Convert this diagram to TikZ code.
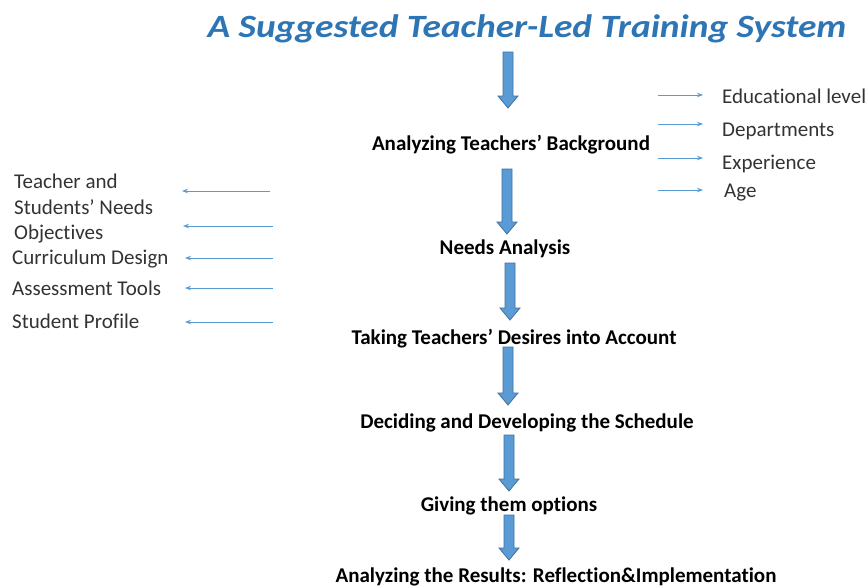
\documentclass[tikz,border=0pt]{standalone}
\usepackage{fontspec}
\setmainfont{Carlito}[Ligatures={NoCommon,TeX}]
\newfontfamily\titlefont[FakeStretch=1.15,Ligatures={NoCommon,TeX}]{Carlito}
\usetikzlibrary{arrows.meta}
\definecolor{titleblue}{HTML}{2E75B6}
\definecolor{arrfill}{HTML}{5B9BD5}
\definecolor{arrline}{HTML}{41719C}
\definecolor{thinblue}{HTML}{5B9BD5}
\definecolor{sidetxt}{HTML}{333333}
\newcommand\blockarrow[4]{% name, x, ytop, ybot
  \filldraw[blockarr] (#2-5,#3) -- (#2+5,#3) -- (#2+5,#4-12) -- (#2+10,#4-12)
    -- (#2,#4) -- (#2-10,#4-12) -- (#2-5,#4-12) -- cycle;
  \coordinate (#1) at (#2,#3);}
\begin{document}
\begin{tikzpicture}[x=1pt,y=-1pt,
  titlestyle/.style={font=\titlefont\fontsize{32.5}{38}\selectfont\bfseries\itshape, text=titleblue, inner sep=0pt, anchor=base},
  stepbox/.style={font=\fontsize{21}{25}\selectfont\bfseries, text=black, inner sep=0pt, anchor=base},
  side/.style={font=\fontsize{21}{25}\selectfont, text=sidetxt, inner sep=0pt, anchor=base west},
  blockarr/.style={draw=arrline, fill=arrfill, line width=0.8pt},
  thinarr/.style={draw=thinblue, line width=0.9pt, -{Stealth[length=6pt,width=4.5pt]}}]
\useasboundingbox (0,0) rectangle (867,587);
\fill[white] (0,0) rectangle (867,587);

\node[titlestyle] (title) at (527,37) {A Suggested Teacher-Led Training System};

\node[stepbox] (bg) at (511,150) {Analyzing Teachers’ Background};
\node[stepbox] (needs) at (505,254) {Needs Analysis};
\node[stepbox] (desires) at (514,344) {Taking Teachers’ Desires into Account};
\node[stepbox] (sched) at (527,428) {Deciding and Developing the Schedule};
\node[stepbox] (opts) at (509,511) {Giving them options};
\node[stepbox] (res) at (556,582) {Analyzing the Results: Reflection\&Implementation};

\blockarrow{b1}{508}{52}{108}
\blockarrow{b2}{507}{169}{234}
\blockarrow{b3}{510}{263}{320}
\blockarrow{b4}{508}{347}{405}
\blockarrow{b5}{509}{435}{491}
\blockarrow{b6}{509}{515}{560}

% right side
\node[side] (edu) at (722,103) {Educational level};
\node[side] (dep) at (722,136) {Departments};
\node[side] (exp) at (722,169) {Experience};
\node[side] (age) at (724,197) {Age};
\coordinate (r1s) at (658,95);  \coordinate (r1e) at (703,95);
\coordinate (r2s) at (658,124); \coordinate (r2e) at (703,124);
\coordinate (r3s) at (658,158); \coordinate (r3e) at (703,158);
\coordinate (r4s) at (658,190); \coordinate (r4e) at (703,190);
\draw[thinarr] (r1s) -- (r1e);
\draw[thinarr] (r2s) -- (r2e);
\draw[thinarr] (r3s) -- (r3e);
\draw[thinarr] (r4s) -- (r4e);

% left side
\node[side] (tsn1) at (14,188) {Teacher and};
\node[side] (tsn2) at (14,214) {Students’ Needs};
\node[side] (obj) at (14,239) {Objectives};
\node[side] (cur) at (12,264) {Curriculum Design};
\node[side] (ass) at (12,295) {Assessment Tools};
\node[side] (stu) at (12,328) {Student Profile};
\coordinate (l1s) at (270,191); \coordinate (l1e) at (182,191);
\coordinate (l2s) at (273,226); \coordinate (l2e) at (183,226);
\coordinate (l3s) at (273,258); \coordinate (l3e) at (185,258);
\coordinate (l4s) at (273,288); \coordinate (l4e) at (185,288);
\coordinate (l5s) at (273,322); \coordinate (l5e) at (185,322);
\draw[thinarr] (l1s) -- (l1e);
\draw[thinarr] (l2s) -- (l2e);
\draw[thinarr] (l3s) -- (l3e);
\draw[thinarr] (l4s) -- (l4e);
\draw[thinarr] (l5s) -- (l5e);
\end{tikzpicture}
\end{document}
